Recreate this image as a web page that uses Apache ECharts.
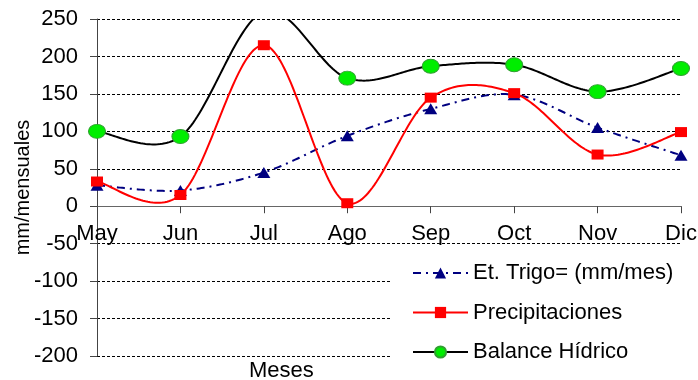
<!DOCTYPE html>
<html><head><meta charset="utf-8">
<script src="https://cdn.jsdelivr.net/npm/echarts@6/dist/echarts.min.js"></script>
<style>html,body{margin:0;padding:0;background:#fff}#c{width:698px;height:380px}</style>
</head><body><div id="c"></div>
<script>
var months = ['May','Jun','Jul','Ago','Sep','Oct','Nov','Dic'];
var etTrigo = [28, 21, 45, 94, 130, 149, 105, 68];
var precip = [33, 15, 215, 4, 145, 151, 69, 99];
var balance = [100, 93, 260, 171, 187, 189, 153, 184];
var yMin = -200, yMax = 250, yStep = 50;

var FONT = 'Liberation Sans, Arial, sans-serif';
var GRID = {left: 97, right: 17, top: 19, bottom: 24};
var H = 380;
var gridH = H - GRID.top - GRID.bottom;
var zeroOffset = -gridH * (0 - yMin) / (yMax - yMin);

// Excel-like (Catmull-Rom) smoothed curve drawn via the library's coordinate system
function curveSeries(values, color, width, dash, z) {
  return {
    type: 'custom', data: [0], z: z, silent: true, clip: true,
    renderItem: function (params, api) {
      var pts = values.map(function (v, i) { return api.coord([i, v]); });
      var out = [pts[0]];
      for (var i = 0; i < pts.length - 1; i++) {
        var p0 = pts[i - 1] || pts[i], p1 = pts[i], p2 = pts[i + 1], p3 = pts[i + 2] || pts[i + 1];
        var c1 = [p1[0] + (p2[0] - p0[0]) / 6, p1[1] + (p2[1] - p0[1]) / 6];
        var c2 = [p2[0] - (p3[0] - p1[0]) / 6, p2[1] - (p3[1] - p1[1]) / 6];
        for (var k = 1; k <= 40; k++) {
          var t = k / 40, u = 1 - t;
          out.push([
            u*u*u*p1[0] + 3*u*u*t*c1[0] + 3*u*t*t*c2[0] + t*t*t*p2[0],
            u*u*u*p1[1] + 3*u*u*t*c1[1] + 3*u*t*t*c2[1] + t*t*t*p2[1]
          ]);
        }
      }
      var cs = params.coordSys;
      return {
        type: 'polyline',
        shape: {points: out},
        style: {fill: 'none', stroke: color, lineWidth: width, lineDash: dash || null},
        clipPath: {type: 'rect', shape: {x: cs.x, y: cs.y, width: cs.width, height: cs.height}}
      };
    }
  };
}

var chart = echarts.init(document.getElementById('c'), null, {renderer:'canvas'});
chart.setOption({
  animation: false,
  backgroundColor: '#fff',
  textStyle: {fontFamily: FONT},
  title: {text: 'Meses', left: 249, top: 360, padding: 0,
    textStyle: {fontFamily: FONT, fontSize: 22, fontWeight: 'normal', color: '#000'}},
  grid: {left: GRID.left, right: GRID.right, top: GRID.top, bottom: GRID.bottom,
    containLabel: false, outerBoundsMode: 'none'},
  legend: {
    orient: 'vertical', left: 392, top: 252,
    padding: [10, 30, 12, 20],
    backgroundColor: '#fff',
    itemWidth: 55, itemHeight: 14, itemGap: 17.5,
    textStyle: {fontFamily: FONT, fontSize: 22, color: '#000', lineHeight: 22},
    data: [
      {name: 'Et. Trigo= (mm/mes)', lineStyle: {color: '#000080', width: 2, type: [8, 5, 2, 5], opacity: 1}},
      {name: 'Precipitaciones', lineStyle: {color: '#ff0000', width: 2, type: 'solid', opacity: 1}},
      {name: 'Balance Hídrico', lineStyle: {color: '#000', width: 2, type: 'solid', opacity: 1}}
    ]
  },
  xAxis: {
    type: 'category', data: months, boundaryGap: false,
    offset: zeroOffset,
    axisLine: {onZero: false, lineStyle: {color: '#666', width: 1}},
    axisTick: {alignWithLabel: true, length: 7, lineStyle: {color: '#444'}},
    axisLabel: {fontFamily: FONT, fontSize: 22, color: '#000', margin: 17, interval: 0},
    splitLine: {show: false}
  },
  yAxis: {
    type: 'value', min: yMin, max: yMax, interval: yStep,
    name: 'mm/mensuales', nameLocation: 'middle', nameRotate: 90, nameGap: 64,
    nameMoveOverlap: false,
    nameTextStyle: {fontFamily: FONT, fontSize: 20, color: '#000'},
    axisLine: {show: true, lineStyle: {color: '#444', width: 1}},
    axisTick: {show: true, length: 7, lineStyle: {color: '#444'}},
    axisLabel: {fontFamily: FONT, fontSize: 22, color: '#000', margin: 19},
    splitLine: {show: true, lineStyle: {color: '#000', type: [3, 2], width: 1}}
  },
  series: [
    curveSeries(etTrigo, '#000080', 2, [8, 5, 2, 5], 2),
    curveSeries(precip, '#ff0000', 2, null, 3),
    curveSeries(balance, '#000000', 2, null, 4),
    {name: 'Et. Trigo= (mm/mes)', type: 'line', data: etTrigo, clip: true,
     symbol: 'triangle', symbolSize: [13, 11],
     lineStyle: {color: '#000080', width: 2, type: [8, 5, 2, 5], opacity: 0},
     itemStyle: {color: '#000080'}, z: 6},
    {name: 'Precipitaciones', type: 'line', data: precip, clip: true,
     symbol: 'rect', symbolSize: [12, 10],
     lineStyle: {color: '#ff0000', width: 2, opacity: 0},
     itemStyle: {color: '#ff0000'}, z: 7},
    {name: 'Balance Hídrico', type: 'line', data: balance, clip: true,
     symbol: 'circle', symbolSize: [17, 14],
     lineStyle: {color: '#000', width: 2, opacity: 0},
     itemStyle: {color: '#00ee00', borderColor: '#30a030', borderWidth: 1}, z: 8}
  ]
});
</script></body></html>
